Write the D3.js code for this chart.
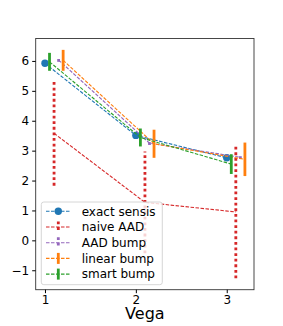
<!DOCTYPE html>
<html>
<head>
<meta charset="utf-8">
<script src="https://cdn.jsdelivr.net/npm/d3@7"></script>
<style>
  body { margin: 0; background: #fff; }
  text { font-family: "DejaVu Sans", sans-serif; }
</style>
</head>
<body>
<div id="chartSection"></div>
<script>
// values
var xs = [1, 2, 3];
var seriesNames = ["exact sensis", "naive AAD", "AAD bump", "linear bump", "smart bump"];
var seriesColors = ["#1f77b4", "#d62728", "#9467bd", "#ff7f0e", "#2ca02c"];
var xOffsets = [0, 0.1, 0.15, 0.2, 0.05];
var exactVals = [5.92, 3.51, 2.76];
var exactErr = [0, 0, 0];
var naiveVals = [3.58, 1.27, 0.95];
var naiveErr = [1.75, 1.7, 2.22];
var aadBumpVals = [6.03, 3.25, 2.78];
var aadBumpErr = [0.06, 0.06, 0.06];
var linearVals = [6.02, 3.23, 2.71];
var linearErr = [0.35, 0.47, 0.56];
var smartVals = [5.97, 3.44, 2.55];
var smartErr = [0.3, 0.3, 0.33];
var yTicks = [-1, 0, 1, 2, 3, 4, 5, 6];
var xTicks = [1, 2, 3];

var allVals = [exactVals, naiveVals, aadBumpVals, linearVals, smartVals];
var allErr = [exactErr, naiveErr, aadBumpErr, linearErr, smartErr];
// "solid" bars, "dot" bars, or none
var barStyle = ["none", "dot", "dot", "solid", "solid"];

var width = 283, height = 326;
var plotLeft = 35.7, plotRight = 254, plotTop = 38.5, plotBottom = 289.7;

var svg = d3.select("#chartSection").append("svg")
    .attr("width", width)
    .attr("height", height);

var xScale = d3.scaleLinear().domain([0.898, 3.30]).range([plotLeft, plotRight]);
var yScale = d3.scaleLinear().domain([-1.65, 6.75]).range([plotBottom, plotTop]);

var g = svg.append("g");

allVals.forEach(function(vals, i) {
    var color = seriesColors[i];
    var pts = xs.map(function(x, k) {
        return { x: x + xOffsets[i], y: vals[k], e: allErr[i][k] };
    });

    g.append("path")
        .datum(pts)
        .attr("fill", "none")
        .attr("stroke", color)
        .attr("stroke-width", 1.1)
        .attr("stroke-dasharray", "3.5,1.5")
        .attr("d", d3.line().x(d => xScale(d.x)).y(d => yScale(d.y)));

    if (barStyle[i] != "none") {
        g.selectAll(null)
            .data(pts)
            .enter().append("line")
            .attr("x1", d => xScale(d.x))
            .attr("x2", d => xScale(d.x))
            .attr("y1", d => yScale(d.y - d.e))
            .attr("y2", d => yScale(d.y + d.e))
            .attr("stroke", color)
            .attr("stroke-width", 2.8)
            .attr("stroke-dasharray", barStyle[i] == "dot" ? "2.8,2.8" : null);
    }

    if (i == 0) {
        g.selectAll(null)
            .data(pts)
            .enter().append("circle")
            .attr("cx", d => xScale(d.x))
            .attr("cy", d => yScale(d.y))
            .attr("r", 3.7)
            .attr("fill", color);
    }
});

// frame
svg.append("rect")
    .attr("x", plotLeft).attr("y", plotTop)
    .attr("width", plotRight - plotLeft).attr("height", plotBottom - plotTop)
    .attr("fill", "none").attr("stroke", "#333").attr("stroke-width", 0.9);

// axes
var yAxis = d3.axisLeft(yScale).tickValues(yTicks).tickSize(3.5).tickPadding(3)
    .tickFormat(d => d < 0 ? "\u2212" + Math.abs(d) : d);
svg.append("g").attr("transform", "translate(" + plotLeft + ",0)").call(yAxis)
    .call(a => a.select(".domain").remove())
    .call(a => a.selectAll("text").attr("font-size", 12).attr("fill", "#000")
        .attr("font-family", "DejaVu Sans"));

var xAxis = d3.axisBottom(xScale).tickValues(xTicks).tickSize(3.5).tickPadding(2.5)
    .tickFormat(d3.format("d"));
svg.append("g").attr("transform", "translate(0," + plotBottom + ")").call(xAxis)
    .call(a => a.select(".domain").remove())
    .call(a => a.selectAll("text").attr("font-size", 12).attr("fill", "#000")
        .attr("font-family", "DejaVu Sans"));

svg.append("text")
    .attr("x", (plotLeft + plotRight) / 2).attr("y", 319)
    .attr("text-anchor", "middle")
    .attr("font-size", 16)
    .text("Vega");

// legend
var lg = svg.append("g");
lg.append("rect")
    .attr("x", 41.3).attr("y", 202).attr("width", 121).attr("height", 82.7)
    .attr("rx", 2.5)
    .attr("fill", "#fff").attr("fill-opacity", 0.8)
    .attr("stroke", "#ccc").attr("stroke-width", 0.8);

seriesNames.forEach(function(name, i) {
    var cy = 211.3 + i * 15.7;
    var color = seriesColors[i];
    lg.append("line")
        .attr("x1", 46).attr("x2", 70.7).attr("y1", cy).attr("y2", cy)
        .attr("stroke", color).attr("stroke-width", 1.1)
        .attr("stroke-dasharray", "3.5,1.5");
    if (i == 0) {
        lg.append("circle").attr("cx", 58.3).attr("cy", cy).attr("r", 3.7).attr("fill", color);
    } else {
        lg.append("line")
            .attr("x1", 58.3).attr("x2", 58.3)
            .attr("y1", cy - 5.5).attr("y2", cy + 5.5)
            .attr("stroke", color).attr("stroke-width", 2.8)
            .attr("stroke-dasharray", barStyle[i] == "dot" ? "2.8,2.8" : null);
    }
    lg.append("text")
        .attr("x", 81.7).attr("y", cy + 4.3)
        .attr("font-size", 12)
        .text(name);
});
</script>
</body>
</html>
